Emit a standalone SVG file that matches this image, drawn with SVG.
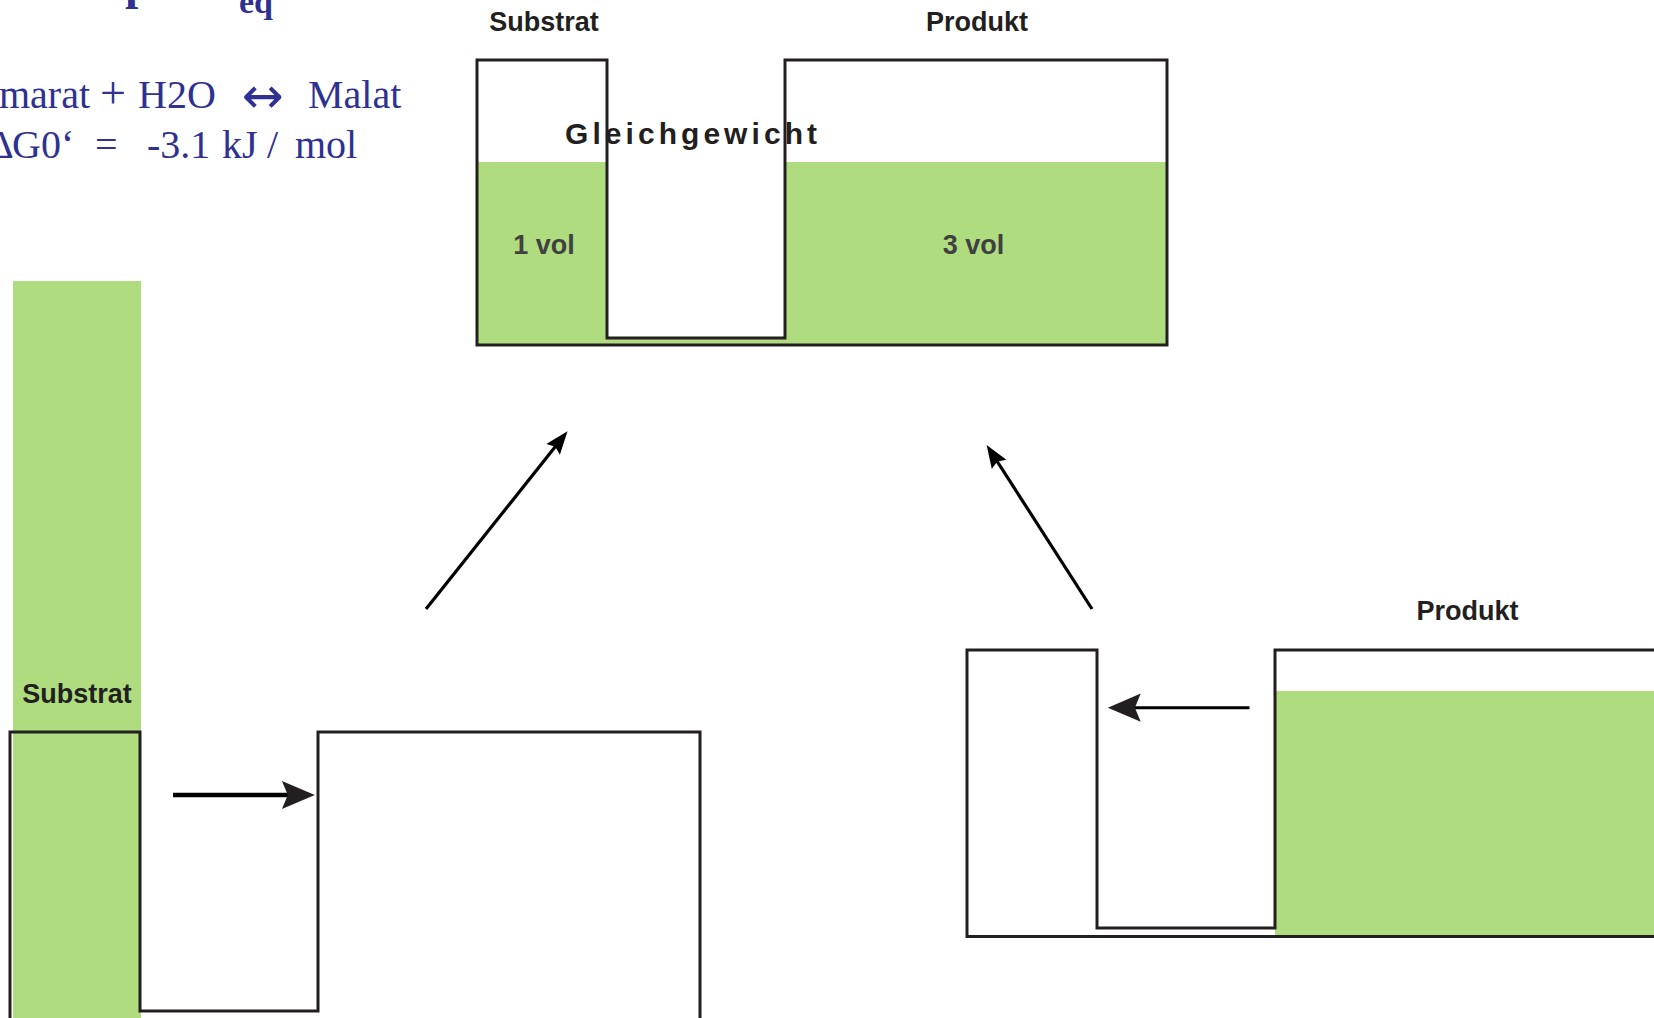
<svg xmlns="http://www.w3.org/2000/svg" width="1654" height="1018" viewBox="0 0 1654 1018">
  <style>
    .wall { fill: none; stroke: #231f20; stroke-width: 3; stroke-linejoin: miter; }
    .fluid { fill: #aedc7e; }
    .gap { fill: #ffffff; }
    .label { font-family: "Liberation Sans", Arial, sans-serif; font-weight: bold; font-size: 27px; fill: #231f20; text-anchor: middle; }
    .state { font-family: "Liberation Sans", Arial, sans-serif; font-weight: bold; font-size: 30px; fill: #231f20; text-anchor: start; }
    .vol { font-family: "Liberation Sans", Arial, sans-serif; font-weight: bold; font-size: 27px; fill: #414042; text-anchor: middle; }
    .formula { font-family: "Liberation Serif", "Times New Roman", serif; font-size: 40px; fill: #2e3192; }
    .arrow-sym { font-family: "DejaVu Sans", sans-serif; font-size: 50px; }
    .title { font-family: "Liberation Serif", "Times New Roman", serif; font-weight: bold; fill: #2e3192; }
    .shaft { fill: none; stroke: #000000; stroke-linecap: butt; }
  </style>
  <defs>
    <marker id="head-lg" markerUnits="userSpaceOnUse" markerWidth="40" markerHeight="40" viewBox="-2 -14 34 28" refX="6" refY="0" orient="auto" overflow="visible">
      <path d="M28,0 L0,-12 L5,0 L0,12 Z" fill="#231f20"/>
    </marker>
    <marker id="head-sm" markerUnits="userSpaceOnUse" markerWidth="30" markerHeight="30" viewBox="-2 -10 26 20" refX="4" refY="0" orient="auto" overflow="visible">
      <path d="M20,0 L0,-7.5 L3,0 L0,7.5 Z" fill="#000000"/>
    </marker>
  </defs>

  <rect width="1654" height="1018" fill="#ffffff"/>

  <!-- heading fragments and reaction formula -->
  <g id="formula">
    <text class="title" x="125" y="-1" font-size="48">p</text>
    <text class="title" x="239" y="12.5" font-size="34">eq</text>
    <text class="formula" y="108"><tspan x="-1">marat</tspan><tspan x="100" font-size="46">+</tspan><tspan x="138">H2O</tspan><tspan class="arrow-sym" x="242" y="113">↔</tspan><tspan x="308" y="108">Malat</tspan></text>
    <text class="formula" y="157.7"><tspan x="-12">Δ</tspan><tspan x="12">G0‘</tspan><tspan x="95">=</tspan><tspan x="147">-3.1</tspan><tspan x="222">kJ</tspan><tspan x="267">/</tspan><tspan x="295">mol</tspan></text>
  </g>

  <!-- equilibrium: two connected tanks -->
  <g id="vessel-equilibrium">
    <rect class="fluid" x="477" y="162" width="690" height="183"/>
    <rect class="gap" x="607" y="160" width="178" height="178"/>
    <path class="wall" d="M607,60 H477 V345 H1167 V60 H785 V338 H607 Z"/>
    <text class="label" x="544" y="31">Substrat</text>
    <text class="label" x="977" y="31">Produkt</text>
    <text class="state" x="565" y="143.5" textLength="252" lengthAdjust="spacing">Gleichgewicht</text>
    <text class="vol" x="544" y="254">1 vol</text>
    <text class="vol" x="973.5" y="254">3 vol</text>
  </g>

  <!-- start: substrate side full -->
  <g id="vessel-substrate">
    <rect class="fluid" x="13" y="281" width="128" height="737"/>
    <path class="wall" d="M10,1020 V732 H140 V1011 H318 V732 H700 V1020"/>
    <text class="label" x="77" y="702.5">Substrat</text>
  </g>

  <!-- start: product side full -->
  <g id="vessel-product">
    <rect class="fluid" x="1275" y="691" width="379" height="245"/>
    <path class="wall" d="M1656,650 H1275 V928 H1097 V650 H967 V936.5 H1656"/>
    <text class="label" x="1467.5" y="620">Produkt</text>
  </g>

  <!-- flow arrows -->
  <g id="connectors">
    <line class="shaft" x1="173" y1="795" x2="289" y2="795" stroke-width="4.5" stroke="#231f20" marker-end="url(#head-lg)"/>
    <line class="shaft" x1="1249.5" y1="707.7" x2="1133.7" y2="707.7" stroke-width="3" stroke="#231f20" marker-end="url(#head-lg)"/>
    <line class="shaft" x1="426" y1="609" x2="556" y2="445.8" stroke-width="3.2" marker-end="url(#head-sm)"/>
    <line class="shaft" x1="1092" y1="609" x2="996.6" y2="460.5" stroke-width="3.2" marker-end="url(#head-sm)"/>
  </g>
</svg>
